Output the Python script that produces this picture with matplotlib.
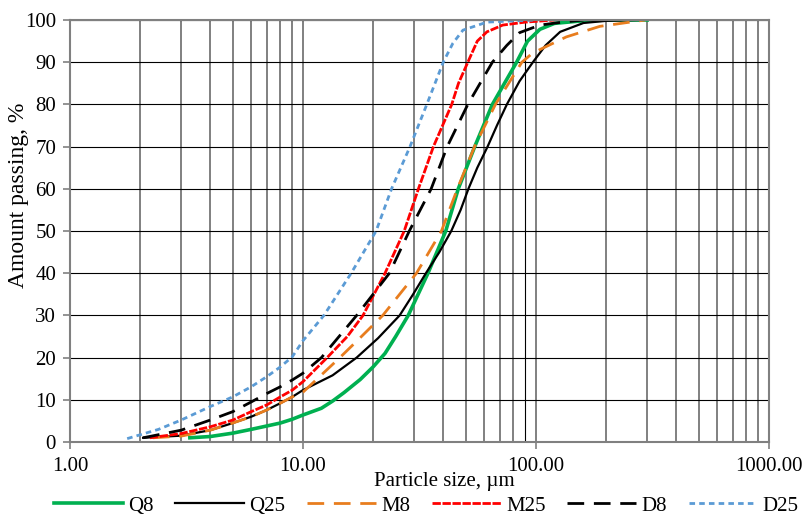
import matplotlib
matplotlib.use("Agg")
import matplotlib.pyplot as plt
from matplotlib.ticker import FixedLocator, NullFormatter, FixedFormatter

plt.rcParams['font.family'] = ['Liberation Serif', 'DejaVu Serif']

# Particle size (µm) and amount passing (%)
q8_x = [3.27, 4, 5, 6, 7, 8, 9, 10, 12, 13.4, 15, 17.6, 20, 22.5, 25, 28.3, 34.4, 41, 46.4, 54.6, 65, 82.6, 92, 104, 120, 150, 200, 300]
q8_y = [1, 1.3, 2.1, 3, 3.8, 4.5, 5.4, 6.4, 8, 9.7, 11.7, 14.8, 17.8, 21, 25, 30, 40, 50, 60, 70, 80, 90, 95, 97.8, 99.2, 99.7, 100, 100]

q25_x = [2.06, 3, 4, 5, 6, 7, 8, 9, 10, 13.4, 17, 21, 26, 29.7, 33.7, 38.5, 43.3, 47.5, 51.3, 56, 62, 68, 75, 85, 97, 110, 127, 160, 200, 280]
q25_y = [1, 1.5, 2.8, 4.5, 6, 7.6, 9.2, 10.7, 12.3, 15.8, 20, 24.6, 30, 35, 40, 45, 50, 55, 60, 65, 70, 75, 80, 85.5, 90, 94, 97.2, 99.3, 99.8, 100]

m8_x = [2.27, 3, 4, 5, 6, 7, 8, 9, 10, 14.4, 17.6, 22, 30.7, 39.3, 46, 54.5, 67, 87, 95, 104, 135, 188, 294]
m8_y = [1, 1.4, 2.8, 4.5, 6, 7.6, 9.2, 10.7, 11.8, 20, 24.7, 30, 40, 50, 60, 70, 80, 90, 91.8, 93, 96, 98.5, 100]

m25_x = [2.2, 3, 4, 5, 6, 7, 8, 9, 10, 12.7, 15.5, 18.1, 22.5, 27.2, 31.3, 36.3, 43.5, 46.5, 51, 56, 61.6, 72, 90, 120]
m25_y = [1, 2, 3.6, 5.2, 7.2, 8.8, 10.7, 12.3, 14.3, 20, 25, 30, 40, 50, 60, 70, 80, 85, 90, 95, 97.2, 98.8, 99.5, 100]

d8_x = [2.06, 3, 4, 5, 6, 7, 8, 9, 10, 12, 17, 23.5, 28.6, 35.5, 41.6, 51, 65, 75, 85, 104, 130, 160]
d8_y = [1, 2.8, 5.2, 7.2, 9.5, 11.5, 13.1, 14.7, 16.3, 20, 30, 40, 50, 60, 70, 80, 90, 94, 97, 98.8, 99.5, 100]

d25_x = [1.76, 2.4, 3, 4, 5, 6, 7, 8, 9, 10, 12.3, 16.1, 20.6, 24, 28.8, 34, 40, 44, 48.6, 61.6, 80, 100]
d25_y = [0.8, 3, 5.2, 8.4, 10.7, 13.1, 15.5, 17.8, 20.2, 24, 30, 40, 50, 60, 70, 80, 90, 94.5, 97.6, 99.5, 99.8, 100]

x_ticks = [1, 10, 100, 1000]
x_tick_labels = ["1.00", "10.00", "100.00", "1000.00"]
y_ticks = list(range(0, 101, 10))

FS = 15

fig = plt.figure(figsize=(8.09, 5.20), dpi=100)
ax = fig.add_axes([0.0865, 0.15, 0.864, 0.8115])

ax.plot(q8_x, q8_y, color='#00B050', lw=2.6, label='Q8')
ax.plot(q25_x, q25_y, color='black', lw=1.6, label='Q25')
ax.plot(m8_x, m8_y, color='#E87D1E', lw=2.0, ls=(0, (6, 3.5)), label='M8')
ax.plot(m25_x, m25_y, color='#FF0000', lw=2.0, ls=(0, (3, 0.6)), label='M25')
ax.plot(d8_x, d8_y, color='black', lw=2.0, ls=(0, (6, 3.5)), label='D8')
ax.plot(d25_x, d25_y, color='#5B9BD5', lw=2.0, ls=(0, (2, 1.5)), label='D25')

ax.set_xscale('log')
ax.set_xlim(1, 1000)
ax.set_ylim(0, 100)

minors = [m * 10**e for e in range(0, 3) for m in range(2, 10)]
ax.xaxis.set_major_locator(FixedLocator(x_ticks))
ax.xaxis.set_major_formatter(FixedFormatter(x_tick_labels))
ax.xaxis.set_minor_locator(FixedLocator(minors))
ax.xaxis.set_minor_formatter(NullFormatter())
ax.set_yticks(y_ticks)

ax.grid(True, which='both', axis='x', color='#808080', lw=1.4)
ax.grid(True, which='major', axis='y', color='black', lw=0.8)
ax.set_axisbelow(True)

# the 90 µm gridline is drawn thin and black in the reference
mt = ax.xaxis.get_minor_ticks()
if len(mt) > 15:
    mt[15].gridline.set_color('black')
    mt[15].gridline.set_linewidth(0.8)

for s in ax.spines.values():
    s.set_color('#808080')
    s.set_linewidth(1.5)

ax.tick_params(axis='both', which='major', labelsize=FS, colors='#808080',
               labelcolor='black', length=5, width=1.2)
ax.tick_params(axis='x', which='minor', length=0)
ax.tick_params(axis='x', which='major', pad=6)
ax.tick_params(axis='y', which='major', pad=5)

ax.set_ylabel('Amount passing, %', fontsize=17)
ax.yaxis.set_label_coords(-0.058, 0.585)
ax.set_xlabel('Particle size, µm', fontsize=FS)
ax.xaxis.set_label_coords(0.536, -0.072)

fig.legend(loc='center', bbox_to_anchor=(0.527, 0.027), ncol=6, frameon=False,
           fontsize=FS, handlelength=3.3, columnspacing=1.05, handletextpad=0.25)

fig.savefig('out.png', dpi=100)
